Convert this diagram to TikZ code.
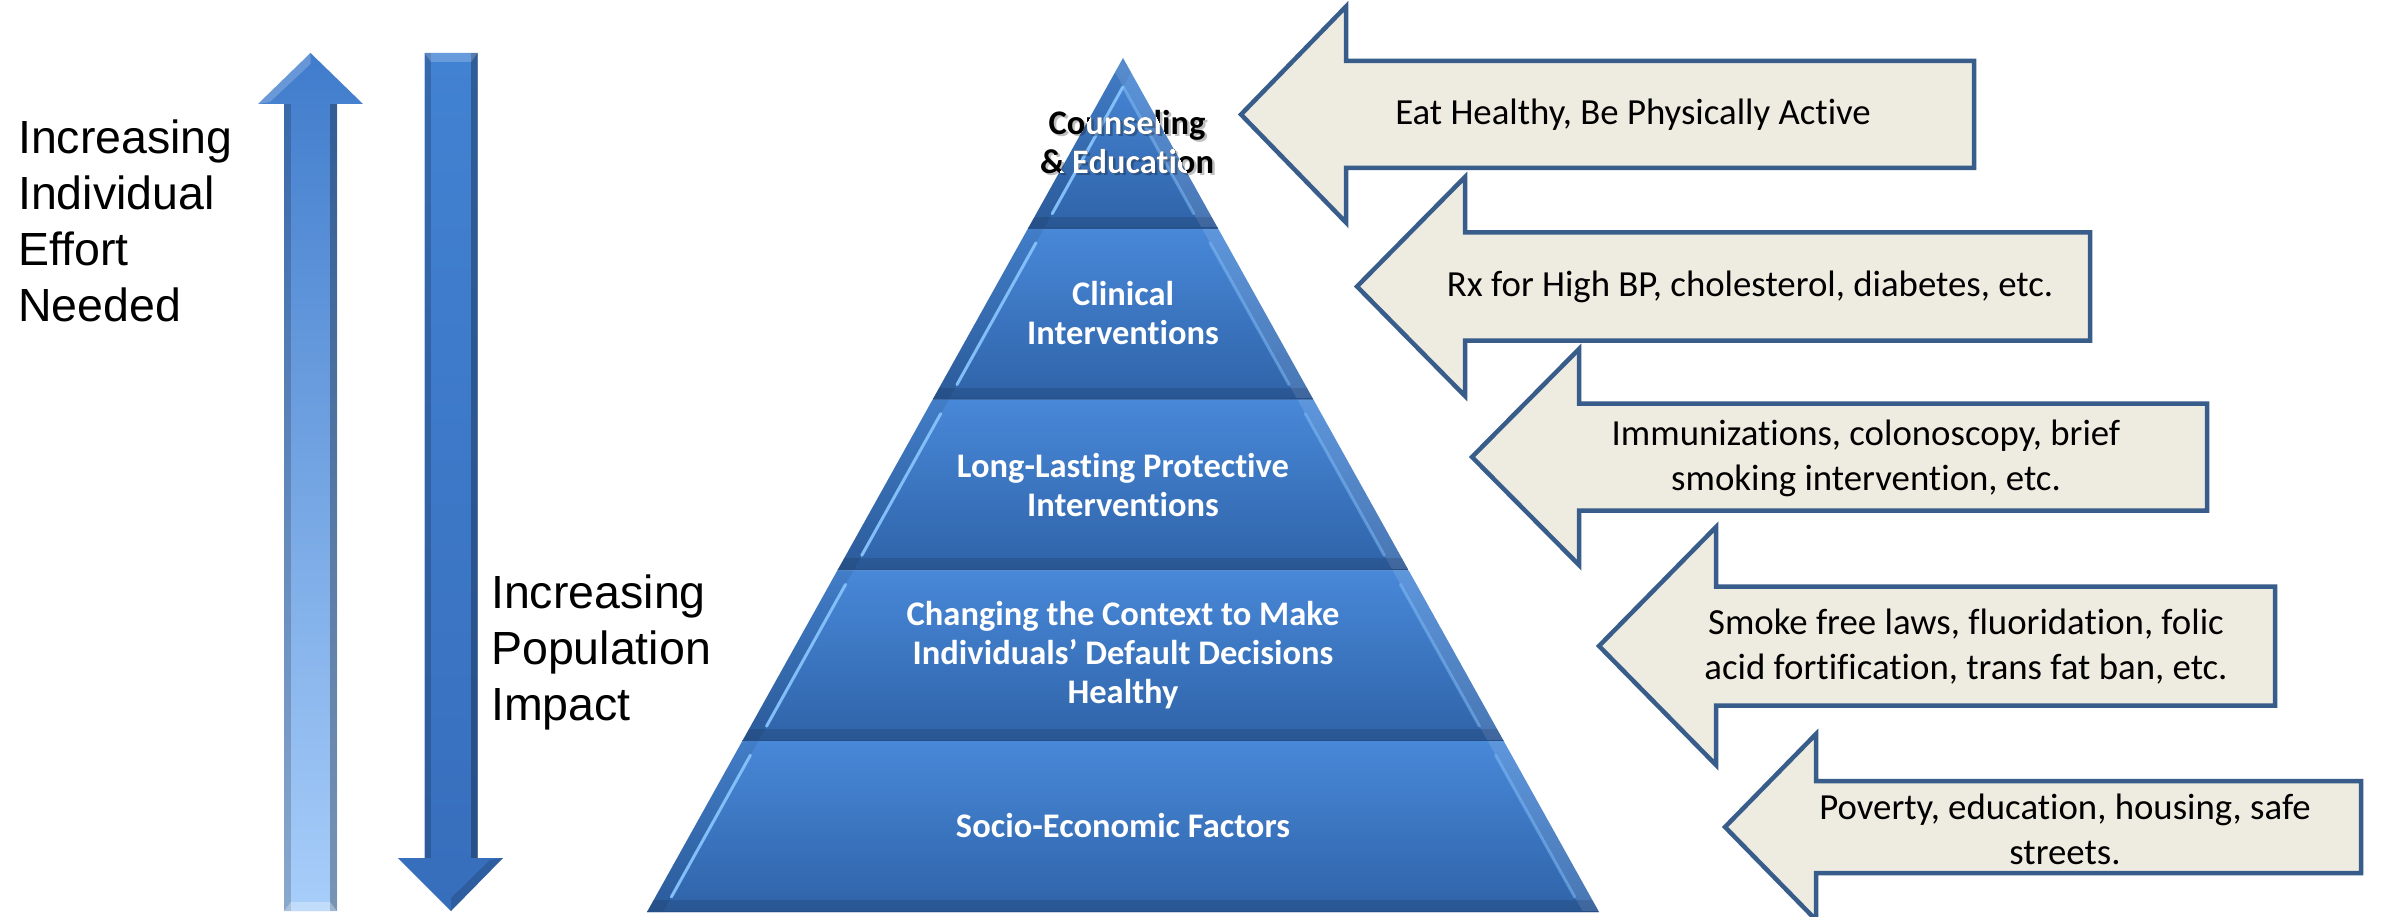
\documentclass[tikz,border=0pt]{standalone}
\usepackage{fontspec}
\setmainfont{Carlito}[Ligatures={TeX,NoCommon}]
\newfontfamily\arialfont{Liberation Sans}
\usepackage{xcolor}
\definecolor{pyrtop}{RGB}{72,136,216}
\definecolor{pyrbot}{RGB}{47,99,168}
\definecolor{pyrhi}{RGB}{130,190,248}
\definecolor{pyrline}{RGB}{38,78,135}
\definecolor{arrline}{RGB}{56,93,138}
\definecolor{arrfill}{RGB}{238,236,225}
\definecolor{uparrtop}{RGB}{64,124,204}
\definecolor{uparrbot}{RGB}{168,206,250}
\definecolor{dnarrtop}{RGB}{66,130,210}
\definecolor{dnarrbot}{RGB}{55,110,188}
\newcommand{\pyrcx}{1123}
\tikzset{
    sidetxtsty/.style={font=\arialfont\fontsize{46.5}{56}\selectfont,align=left,inner sep=0pt,anchor=north west},
    bandtxtsty/.style={font=\bfseries\fontsize{34.5}{39}\selectfont,text=white,align=center,inner sep=0pt},
    toptxtsty/.style={font=\bfseries\fontsize{34.5}{39}\selectfont,align=center,inner sep=0pt},
    facttxtsty/.style={font=\fontsize{36.8}{45}\selectfont,align=center,inner sep=0pt},
    factarrsty/.style={draw=arrline,fill=arrfill,line width=4.5pt},
    bandsty/.style={top color=pyrtop,bottom color=pyrbot},
    hilitesty/.style={draw=pyrhi,line width=3pt,line cap=round},
}
% arrow pointing left: tip x, centre y, neck x, head half height, body half height, right x
\newcommand{\factarrow}[6]{\draw[factarrsty] (#1,#2) -- (#3,#2-#4) -- (#3,#2-#5) -- (#6,#2-#5) -- (#6,#2+#5) -- (#3,#2+#5) -- (#3,#2+#4) -- cycle;}

\begin{document}
\begin{tikzpicture}[x=1pt,y=-1pt]
\useasboundingbox[fill=white] (0,0) rectangle (2384,917);

% up arrow
\shade[top color=uparrtop,bottom color=uparrbot] (310.5,53) -- (363,104) -- (337,104) -- (337,911) -- (284,911) -- (284,104) -- (258,104) -- cycle;
\fill[black,opacity=.18] (284,104) rectangle (291,911);
\fill[black,opacity=.28] (330,104) rectangle (337,911);
\fill[white,opacity=.3] (284,911) -- (337,911) -- (330,902) -- (291,902) -- cycle;
\fill[white,opacity=.2] (258,104) -- (310.5,53) -- (310.5,64) -- (270,102) -- cycle;

% down arrow
\shade[top color=dnarrtop,bottom color=dnarrbot] (424.5,53) -- (477.5,53) -- (477.5,858) -- (503,858) -- (451,911) -- (398,858) -- (424.5,858) -- cycle;
\fill[black,opacity=.18] (424.5,53) rectangle (431,858);
\fill[black,opacity=.28] (471,53) rectangle (477.5,858);
\fill[white,opacity=.2] (424.5,53) -- (477.5,53) -- (471,62) -- (431,62) -- cycle;
\fill[black,opacity=.15] (451,911) -- (503,858) -- (490,860) -- (451,898) -- cycle;

\node[sidetxtsty] (effort) at (18,120) {Increasing\\Individual\\Effort\\Needed};
\node[sidetxtsty] (impact) at (491,575) {Increasing\\Population\\Impact};

% pyramid bands
\foreach \i in {0,...,4}{
  \pgfmathsetmacro{\bandtop}{58+170.8*\i}
  \pgfmathsetmacro{\bandbot}{58+170.8*(\i+1)}
  \pgfmathsetmacro{\halftop}{95.2*\i}
  \pgfmathsetmacro{\halfbot}{95.2*(\i+1)}
  \pgfmathsetmacro{\hia}{max(\bandtop+14,87)}
  \pgfmathsetmacro{\hib}{\bandbot-15}
  \begin{scope}
    \clip (\pyrcx-\halfbot,\bandbot) -- (\pyrcx+\halfbot,\bandbot) -- (\pyrcx+\halftop,\bandtop) -- (\pyrcx-\halftop,\bandtop) -- cycle;
    \shade[bandsty] (\pyrcx-\halfbot,\bandtop) rectangle (\pyrcx+\halfbot,\bandbot);
    \fill[black,opacity=.08] (\pyrcx-\halfbot,\bandbot) -- (\pyrcx-\halftop,\bandtop) -- ++(16,0) -- (\pyrcx-\halfbot+16,\bandbot) -- cycle;
    \fill[white,opacity=.12] (\pyrcx+\halfbot,\bandbot) -- (\pyrcx+\halftop,\bandtop) -- ++(-16,0) -- (\pyrcx+\halfbot-16,\bandbot) -- cycle;
    \fill[black,opacity=.12] (\pyrcx-\halfbot,\bandbot-12) rectangle (\pyrcx+\halfbot,\bandbot);
    \draw[hilitesty] ({\pyrcx-0.5574*(\hia-58)+16},\hia) -- ({\pyrcx-0.5574*(\hib-58)+16},\hib);
    \draw[hilitesty,opacity=.5] ({\pyrcx+0.5574*(\hia-58)-16},\hia) -- ({\pyrcx+0.5574*(\hib-58)-16},\hib);
    \draw[pyrline,line width=3pt] (\pyrcx-\halfbot,\bandbot) -- (\pyrcx+\halfbot,\bandbot);
  \end{scope}
}

% top label runs past the apex
\node[toptxtsty,text=black,opacity=.25] (cnshadow) at (1129.5,144.5) {Counseling\\\& Education};
\node[toptxtsty] (cnbase) at (1127,142) {Counseling\\\& Education};
\begin{scope}
  \clip (\pyrcx,58) -- (\pyrcx-95.2,228.8) -- (\pyrcx+95.2,228.8) -- cycle;
  \node[toptxtsty,text=white] (cnwhite) at (1127,142) {Counseling\\\& Education};
\end{scope}
\node[bandtxtsty] (clin) at (\pyrcx,313) {Clinical\\Interventions};
\node[bandtxtsty] (prot) at (\pyrcx,485) {Long-Lasting Protective\\Interventions};
\node[bandtxtsty] (ctxt) at (\pyrcx,655) {Changing the Context to Make\\Individuals’ Default Decisions\\Healthy};
\node[bandtxtsty] (socio) at (\pyrcx,826) {Socio-Economic Factors};

% intervention arrows
\factarrow{1241}{114.5}{1346}{108}{53.5}{1974}
\factarrow{1357}{286.5}{1465}{109.5}{54}{2090}
\factarrow{1472}{457}{1579}{108}{53.5}{2207}
\factarrow{1599}{646}{1716}{119}{59.5}{2275}
\factarrow{1725}{827}{1816}{93}{46}{2361}

\node[facttxtsty] (eat) at (1633,114.5) {Eat Healthy, Be Physically Active};
\node[facttxtsty] (rx) at (1750,287) {Rx for High BP, cholesterol, diabetes, etc.};
\node[facttxtsty] (immun) at (1866,458) {Immunizations, colonoscopy, brief\\smoking intervention, etc.};
\node[facttxtsty] (smoke) at (1966,647) {Smoke free laws, fluoridation, folic\\acid fortification, trans fat ban, etc.};
\node[facttxtsty] (pov) at (2065,829) {Poverty, education, housing, safe\\streets.};

\end{tikzpicture}
\end{document}
